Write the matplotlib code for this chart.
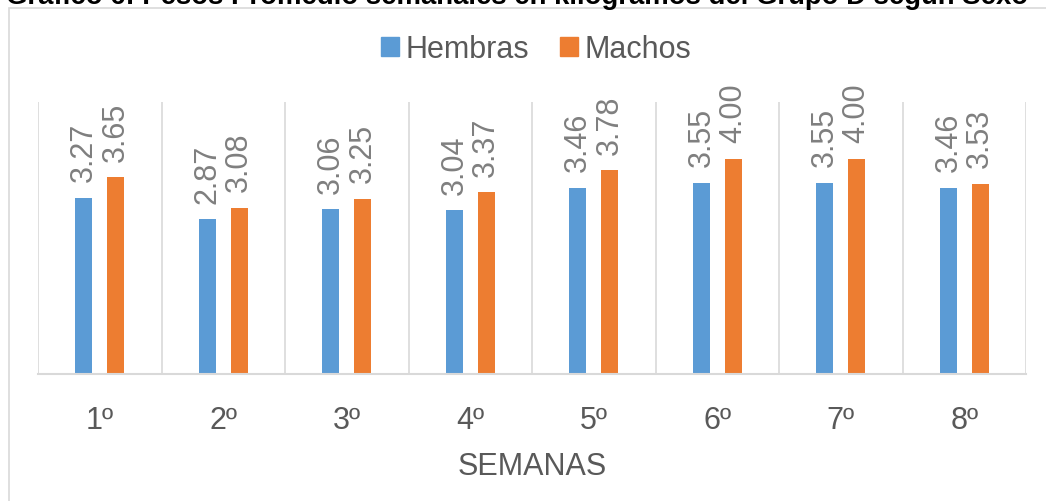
import matplotlib
matplotlib.use("Agg")
import matplotlib.pyplot as plt
from matplotlib.patches import Rectangle, Patch
import numpy as np

# Données : poids moyens hebdomadaires (kg) du Groupe D
semaines = ["1º", "2º", "3º", "4º", "5º", "6º", "7º", "8º"]
hembras = [3.27, 2.87, 3.06, 3.04, 3.46, 3.55, 3.55, 3.46]
machos = [3.65, 3.08, 3.25, 3.37, 3.78, 4.00, 4.00, 3.53]

titre = "Gráfico 6: Pesos Promedio semanales en kilogramos del Grupo D según Sexo"

plt.rcParams['font.family'] = ['Liberation Sans', 'DejaVu Sans']

W, H = 1046, 502
fig = plt.figure(figsize=(W / 100, H / 100), dpi=100)

# cadre du graphique
fig.patches.append(Rectangle((9 / W, -0.1), 1.2, 1.1 - 9 / H, transform=fig.transFigure,
                             fill=False, edgecolor="#d9d9d9", linewidth=1.2))
# titre (coupé en haut comme dans l'original)
fig.text(0.494, 1 - 4 / H, titre, ha="center", va="baseline", fontsize=19.8,
         fontweight="bold", color="black")

ax = fig.add_axes([38 / W, (H - 375) / H, (1026 - 38) / W, (375 - 103) / H])
x = np.arange(len(semaines))
dx = 0.128
larg = 0.138
b1 = ax.bar(x - dx, hembras, larg, color="#5B9BD5", label="Hembras")
b2 = ax.bar(x + dx, machos, larg, color="#ED7D31", label="Machos")

for barres, valeurs in [(b1, hembras), (b2, machos)]:
    for b, v in zip(barres, valeurs):
        ax.annotate(f"{v:.2f}", (b.get_x() + b.get_width() / 2, v), xytext=(0, 12),
                    textcoords="offset points", rotation=90, ha="center", va="bottom",
                    fontsize=22, color="#7f7f7f")

ax.set_xlim(-0.5, len(semaines) - 0.5)
ax.set_ylim(0, 5.05)
ax.set_yticks([])
ax.set_xticks(x)
ax.set_xticklabels(semaines, fontsize=22, color="#595959")
ax.tick_params(axis="x", length=0, pad=22)
ax.set_xticks(np.arange(-0.5, len(semaines)), minor=True)
ax.tick_params(axis="x", which="minor", length=0)
ax.grid(axis="x", which="minor", color="#d9d9d9", linewidth=1.2)
ax.set_axisbelow(True)
for s in ["top", "left", "right"]:
    ax.spines[s].set_visible(False)
ax.spines["bottom"].set_color("#d9d9d9")
ax.spines["bottom"].set_linewidth(1.5)
ax.set_xlabel("SEMANAS", fontsize=22, color="#595959", labelpad=12)

fig.legend(handles=[Patch(color="#5B9BD5", label="Hembras"), Patch(color="#ED7D31", label="Machos")],
           loc="center", bbox_to_anchor=(536 / W, 1 - 50 / H), ncol=2, frameon=False,
           fontsize=22, labelcolor="#595959", handlelength=0.6, handleheight=0.6,
           handletextpad=0.2, columnspacing=1.0)

fig.savefig("out.png", dpi=100)
